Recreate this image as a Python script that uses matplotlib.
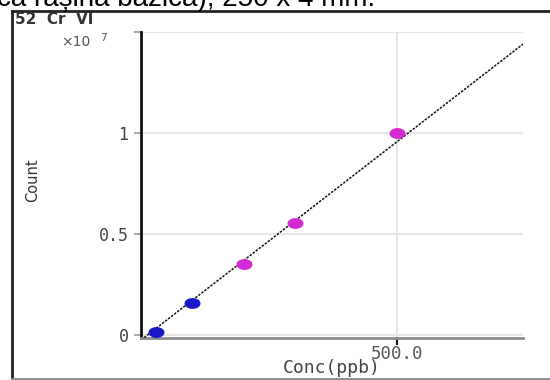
import numpy as np
import matplotlib
matplotlib.use("Agg")
import matplotlib.pyplot as plt
from matplotlib.path import Path
from matplotlib.lines import Line2D

# Calibration standards for 52 Cr VI
conc_low = [30, 100]                 # ppb, blue points
count_low = [0.015e7, 0.158e7]
conc_high = [200, 300, 500]          # ppb, magenta points
count_high = [0.351e7, 0.554e7, 1.0e7]

# Calibration line end points (ppb, counts)
fit_conc = [0, 745]
fit_count = [-0.025e7, 1.44e7]

y_ticks = [0, 0.5e7, 1.0e7, 1.5e7]
y_tick_labels = ["0", "0.5", "1", ""]
x_ticks = [500]
x_tick_labels = ["500.0"]

W, H = 550, 380
fig = plt.figure(figsize=(W / 100, H / 100), dpi=100)
fig.patch.set_facecolor("white")

def fx(px):
    return px / W

def fy(py):
    return 1 - py / H

# Caption line from the surrounding document, cut by the top edge
fig.text(fx(-3), fy(6.5), "ca rășina bazică), 250 x 4 mm.", fontsize=20,
         family="Liberation Sans", color="black", va="baseline", ha="left")

# Frame around the chart panel
fig.add_artist(Line2D([fx(12), fx(552)], [fy(11), fy(11)], color="#222222", lw=2.0))
fig.add_artist(Line2D([fx(12), fx(12)], [fy(11), fy(382)], color="#222222", lw=2.0))
fig.add_artist(Line2D([fx(12), fx(552)], [fy(378.5), fy(378.5)], color="#8a8a8a", lw=2.0))

fig.text(fx(15), fy(20), "52  Cr  VI", fontsize=11, fontweight="bold",
         family="DejaVu Sans", color="#333333", va="center", ha="left")

ax = fig.add_axes([fx(141), 1 - 338 / H, 382 / W, 306 / H])
ax.set_xlim(0, 745)
ax.set_ylim(-0.015e7, 1.5e7)

ax.set_facecolor("white")
for s in ("top", "right"):
    ax.spines[s].set_visible(False)
ax.spines["left"].set_color("#111111")
ax.spines["left"].set_linewidth(2.0)
ax.spines["bottom"].set_color("#8c8c8c")
ax.spines["bottom"].set_linewidth(2.0)

ax.set_yticks(y_ticks)
ax.set_yticklabels(y_tick_labels)
ax.set_xticks(x_ticks)
ax.set_xticklabels(x_tick_labels)
ax.tick_params(axis="y", direction="out", length=5, width=1.2, color="#999999",
               labelsize=12, labelcolor="#444444", pad=4)
ax.tick_params(axis="x", direction="out", length=5, width=1.5, color="#111111",
               labelsize=12.5, labelcolor="#555555", pad=0)
for lab in ax.get_xticklabels() + ax.get_yticklabels():
    lab.set_family("DejaVu Sans Mono")

ax.grid(True, color="#e6e6e6", lw=1.5)
ax.set_axisbelow(True)

# Elliptic marker
t = np.linspace(0, 2 * np.pi, 40)
ell = Path(np.column_stack([1.55 * np.cos(t), np.sin(t)]), closed=True)

ax.plot(fit_conc, fit_count, color="#111111", lw=1.1, ls=(0, (1.6, 0.9)), zorder=3)
ax.plot(conc_low, count_low, ls="none", marker=ell, markersize=10.5,
        color="#1818c8", zorder=4)
ax.plot(conc_high, count_high, ls="none", marker=ell, markersize=10.5,
        color="#d42ad4", zorder=4)

ax.set_xlabel("Conc(ppb)", fontsize=13, family="DejaVu Sans Mono",
              color="#444444", labelpad=-3)
fig.text(fx(33), fy(180), "Count", rotation=90, fontsize=10.5,
         family=["Liberation Sans Narrow", "DejaVu Sans"], color="#333333",
         va="center", ha="center")

# Exponent marker at the top of the y axis
fig.text(fx(76), fy(42), "×10", fontsize=10, family="DejaVu Sans",
         color="#555555", va="center", ha="center")
fig.text(fx(103), fy(38), "7", fontsize=7.5, family="DejaVu Sans",
         color="#555555", va="center", ha="center")

fig.savefig("out.png", dpi=100, facecolor="white")
